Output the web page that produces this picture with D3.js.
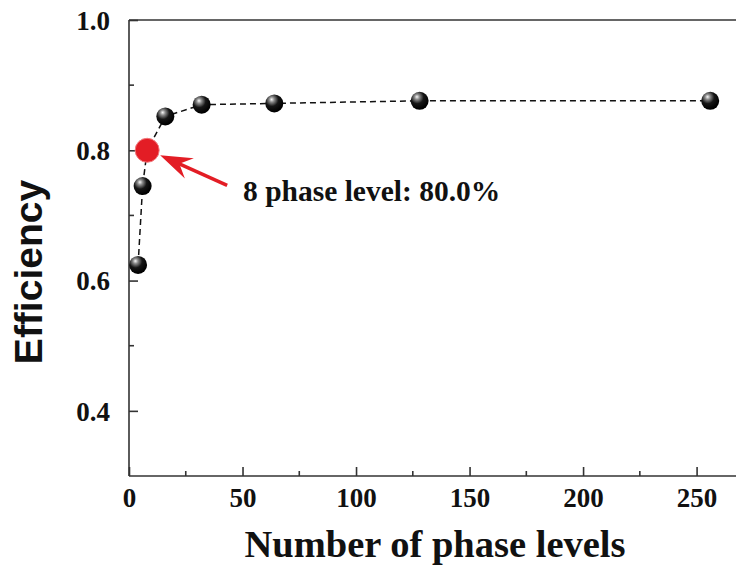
<!DOCTYPE html>
<html>
<head>
<meta charset="utf-8">
<script src="https://cdn.jsdelivr.net/npm/d3@7"></script>
<style>
  body { margin: 0; background: #fff; }
  svg { display: block; }
</style>
</head>
<body>
<div id="chart"></div>
<script>
// data
var phaseLevels = [4, 6, 8, 16, 32, 64, 128, 256];
var efficiency = [0.624, 0.745, 0.800, 0.852, 0.870, 0.872, 0.876, 0.876];
var highlightLevel = 8;
var highlightLabel = "8 phase level: 80.0%";
var xTicks = [0, 50, 100, 150, 200, 250];
var xMinorTicks = [25, 75, 125, 175, 225];
var yTicks = [0.4, 0.6, 0.8, 1.0];
var yMinorTicks = [0.5, 0.7, 0.9];

var width = 736, height = 570;
var plotLeft = 129, plotRight = 742, plotTop = 20, plotBottom = 476;

var svg = d3.select("#chart").append("svg")
    .attr("width", width)
    .attr("height", height);

var x = d3.scaleLinear().domain([0, 270]).range([plotLeft, plotRight]);
var y = d3.scaleLinear().domain([0.3, 1.0]).range([plotBottom, plotTop]);

var defs = svg.append("defs");
var grad = defs.append("radialGradient")
    .attr("id", "ball")
    .attr("cx", "38%").attr("cy", "32%").attr("r", "65%")
    .attr("fx", "35%").attr("fy", "28%");
grad.append("stop").attr("offset", "0%").attr("stop-color", "#f8f8f8");
grad.append("stop").attr("offset", "22%").attr("stop-color", "#8a8a8a");
grad.append("stop").attr("offset", "55%").attr("stop-color", "#161616");
grad.append("stop").attr("offset", "100%").attr("stop-color", "#000");

var axisColor = "#333";
var serif = "'Liberation Serif', 'Times New Roman', serif";

// frame: top line and the two axes
svg.append("line")
    .attr("x1", plotLeft).attr("x2", width)
    .attr("y1", plotTop).attr("y2", plotTop)
    .attr("stroke", axisColor).attr("stroke-width", 1.6);

var xAxis = d3.axisBottom(x).tickValues(xTicks).tickSizeInner(-9).tickSizeOuter(0)
    .tickPadding(12).tickFormat(d3.format("d"));
var gx = svg.append("g")
    .attr("transform", "translate(0," + plotBottom + ")")
    .call(xAxis);

var yAxis = d3.axisLeft(y).tickValues(yTicks).tickSizeInner(-9).tickSizeOuter(0)
    .tickPadding(19).tickFormat(d3.format(".1f"));
var gy = svg.append("g")
    .attr("transform", "translate(" + plotLeft + ",0)")
    .call(yAxis);

[gx, gy].forEach(function(g) {
    g.select(".domain").attr("stroke", axisColor).attr("stroke-width", 1.6);
    g.selectAll(".tick line").attr("stroke", axisColor).attr("stroke-width", 1.6);
    g.selectAll(".tick text")
        .attr("fill", "#111")
        .style("font-family", serif)
        .style("font-weight", "bold")
        .style("font-size", "27px");
});
gx.select(".domain").attr("d", "M" + plotLeft + ",0H" + width);
gy.select(".domain").attr("d", "M0," + plotBottom + "V" + plotTop);
gy.selectAll(".tick text").attr("dy", "0.34em");

// minor ticks
svg.append("g").selectAll("line").data(xMinorTicks).enter().append("line")
    .attr("x1", function(d){ return x(d); })
    .attr("x2", function(d){ return x(d); })
    .attr("y1", plotBottom).attr("y2", plotBottom - 5)
    .attr("stroke", axisColor).attr("stroke-width", 1.6);

svg.append("g").selectAll("line").data(yMinorTicks).enter().append("line")
    .attr("x1", plotLeft).attr("x2", plotLeft + 5)
    .attr("y1", function(d){ return y(d); })
    .attr("y2", function(d){ return y(d); })
    .attr("stroke", axisColor).attr("stroke-width", 1.6);

// dashed connecting line
var pts = phaseLevels.map(function(d, i){ return [d, efficiency[i]]; });
var line = d3.line()
    .x(function(d){ return x(d[0]); })
    .y(function(d){ return y(d[1]); });

svg.append("path")
    .datum(pts)
    .attr("d", line)
    .attr("fill", "none")
    .attr("stroke", "#111")
    .attr("stroke-width", 1.5)
    .attr("stroke-dasharray", "6,4");

// spheres
svg.append("g").selectAll("circle")
    .data(pts.filter(function(d){ return d[0] != highlightLevel; }))
    .enter().append("circle")
    .attr("cx", function(d){ return x(d[0]); })
    .attr("cy", function(d){ return y(d[1]); })
    .attr("r", 9)
    .attr("fill", "url(#ball)");

// highlighted point
var hi = pts.filter(function(d){ return d[0] == highlightLevel; })[0];
var hx = x(hi[0]), hy = y(hi[1]);
svg.append("circle")
    .attr("cx", hx).attr("cy", hy)
    .attr("r", 12)
    .attr("fill", "#e31d25")
    .attr("stroke", "#f27a7e")
    .attr("stroke-width", 1);

// arrow pointing at the highlighted point
var tip = [hx + 13, hy + 5];
var tail = [hx + 80, hy + 35];
var ang = Math.atan2(tail[1] - tip[1], tail[0] - tip[0]);
function along(d, off) {
    return [tip[0] + d * Math.cos(ang) - off * Math.sin(ang),
            tip[1] + d * Math.sin(ang) + off * Math.cos(ang)];
}
svg.append("line")
    .attr("x1", along(18, 0)[0]).attr("y1", along(18, 0)[1])
    .attr("x2", tail[0]).attr("y2", tail[1])
    .attr("stroke", "#e31d25").attr("stroke-width", 3.5);
var head = [along(0, 0), along(32, 11), along(21, 0), along(32, -11)];
svg.append("path")
    .attr("d", "M" + head.map(function(p){ return p.join(","); }).join("L") + "Z")
    .attr("fill", "#e31d25");

svg.append("text")
    .attr("x", 243).attr("y", 201)
    .attr("fill", "#111")
    .style("font-family", serif)
    .style("font-weight", "bold")
    .style("font-size", "29.5px")
    .text(highlightLabel);

// axis titles
svg.append("text")
    .attr("x", (245 + 625) / 2).attr("y", 557)
    .attr("text-anchor", "middle")
    .attr("fill", "#111")
    .style("font-family", serif)
    .style("font-weight", "bold")
    .style("font-size", "38.5px")
    .text("Number of phase levels");

svg.append("text")
    .attr("transform", "translate(42,272) rotate(-90)")
    .attr("text-anchor", "middle")
    .attr("fill", "#111")
    .style("font-family", "'Liberation Sans', Arial, sans-serif")
    .style("font-weight", "bold")
    .style("font-size", "39px")
    .text("Efficiency");
</script>
</body>
</html>
